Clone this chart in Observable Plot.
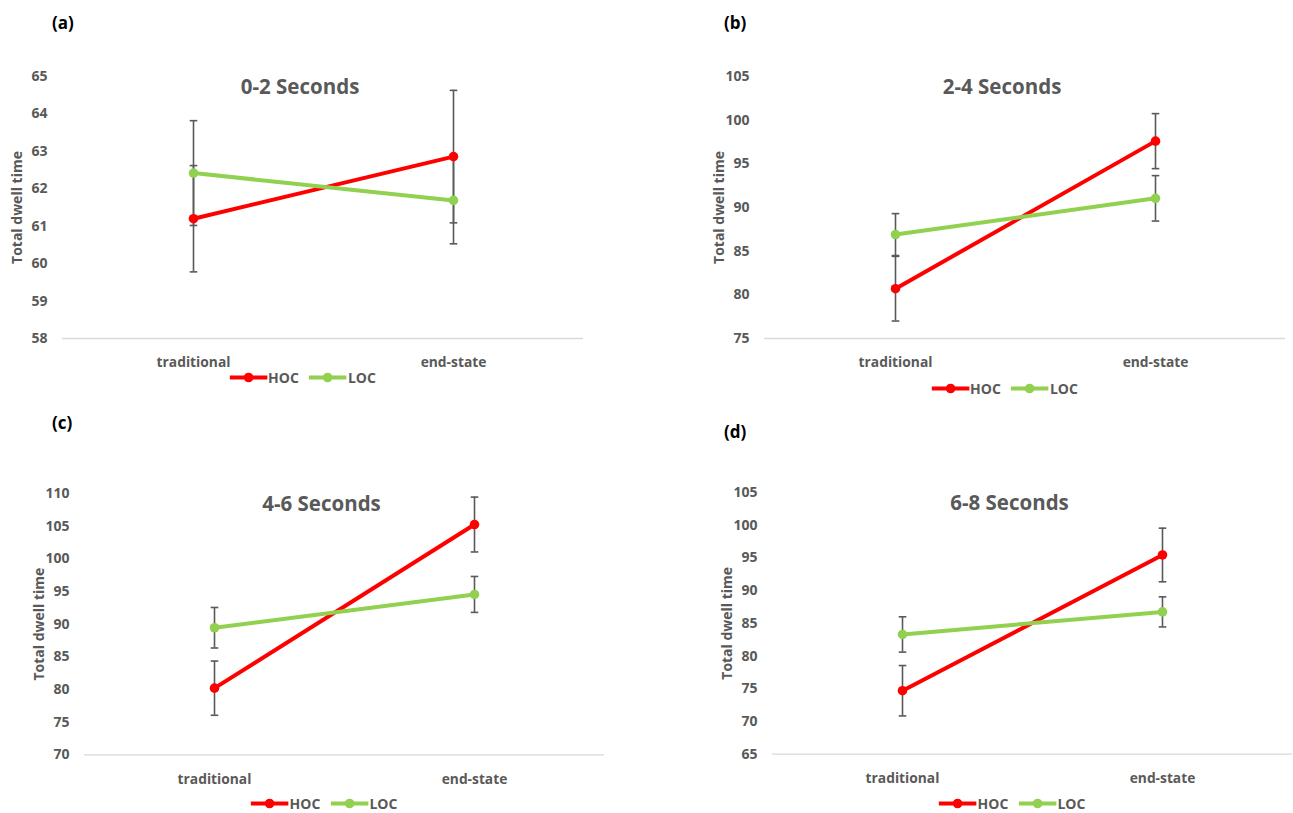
<!DOCTYPE html>
<html><head><meta charset="utf-8">
<script src="https://cdn.jsdelivr.net/npm/d3@7"></script>
<script src="https://cdn.jsdelivr.net/npm/@observablehq/plot@0.6"></script>
<style>
body{margin:0;background:#fff;}
#root{position:relative;width:1293px;height:813px;overflow:hidden;background:#fff;font-family:"Open Sans",Lato,sans-serif;}
.plabel{position:absolute;font-weight:700;font-size:17px;color:#000;transform:translateY(-50%);}
.legend{position:absolute;display:flex;align-items:center;transform:translate(-50%,-50%);font-weight:700;font-size:14px;color:#595959;white-space:nowrap;}
.legend .item{display:flex;align-items:center;margin:0 5px;}
.legend svg{display:block;margin-right:1px;}
.panel{position:absolute;}
</style></head><body><div id="root"></div>
<script>
const categories = ["traditional", "end-state"];
const seriesNames = ["HOC", "LOC"];
const panelLabels = ["(a)", "(b)", "(c)", "(d)"];
const panelTitles = ["0-2 Seconds", "2-4 Seconds", "4-6 Seconds", "6-8 Seconds"];
const yAxisTitle = "Total dwell time";

// [traditional, end-state] per panel
const hocMean = [[61.20, 62.86], [80.70, 97.60], [80.20, 105.25], [74.70, 95.45]];
const hocErr  = [[1.42, 1.77],   [3.70, 3.15],  [4.15, 4.20],   [3.85, 4.10]];
const locMean = [[62.42, 61.69], [86.90, 91.05], [89.45, 94.55], [83.30, 86.75]];
const locErr  = [[1.40, 1.16],   [2.40, 2.60],  [3.10, 2.75],   [2.70, 2.30]];

const yDomains = [[58, 65], [75, 105], [70, 110], [65, 105]];
const yTickStep = [1, 5, 5, 5];

const colors = {HOC: "#FF0000", LOC: "#92D050"};
const layout = [
  {fl: 62,  fr: 583,  ft: 76,    fb: 338, lx: 52,  ly: 22,  legY: 377},
  {fl: 764, fr: 1285, ft: 76,    fb: 338, lx: 724, ly: 22,  legY: 388},
  {fl: 84,  fr: 604,  ft: 492.7, fb: 754, lx: 52,  ly: 422, legY: 803},
  {fl: 772, fr: 1292, ft: 492.3, fb: 754, lx: 724, ly: 431, legY: 803}
];

// horizontal cap symbol for error bars
const capSymbol = {
  draw(context, size) {
    const w = Math.sqrt(size / Math.PI);
    context.moveTo(-w, 0);
    context.lineTo(w, 0);
  }
};

const root = document.getElementById("root");
const FONT = "'Open Sans', Lato, sans-serif";

panelTitles.forEach((title, i) => {
  const L = layout[i];
  const rows = categories.flatMap((c, j) => [
    {series: "HOC", cat: c, mean: hocMean[i][j], err: hocErr[i][j]},
    {series: "LOC", cat: c, mean: locMean[i][j], err: locErr[i][j]}
  ]);
  const padL = 70, padT = 16, padR = 1, padB = 40;
  const W = L.fr - L.fl + padL + padR;
  const H = L.fb - L.ft + padT + padB;
  const [y0, y1] = yDomains[i];
  const errStyle = {stroke: "#595959", strokeWidth: 1.6};
  const chart = Plot.plot({
    width: W, height: H,
    marginLeft: padL, marginRight: padR, marginTop: padT, marginBottom: padB,
    style: {fontFamily: FONT, fontWeight: 700, fontSize: "14px", color: "#595959", background: "transparent", overflow: "visible"},
    x: {type: "point", domain: categories, padding: 0.5, label: null},
    y: {domain: yDomains[i], label: null},
    color: {domain: seriesNames, range: [colors.HOC, colors.LOC]},
    marks: [
      Plot.ruleY([y0], {stroke: "#d9d9d9", strokeWidth: 1.3}),
      Plot.axisY({ticks: d3.range(y0, y1 + 0.001, yTickStep[i]), tickFormat: "d", tickSize: 0, tickPadding: 15, fill: "#595959", fontSize: 14, fontWeight: 700, label: null}),
      Plot.axisX({tickSize: 0, tickPadding: 19, fill: "#595959", fontSize: 13.8, fontWeight: 700, label: null}),
      Plot.ruleX(rows, {x: "cat", y1: d => d.mean - d.err, y2: d => d.mean + d.err, ...errStyle}),
      Plot.dot(rows, {x: "cat", y: d => d.mean + d.err, symbol: capSymbol, r: 3.8, fill: "none", ...errStyle}),
      Plot.dot(rows, {x: "cat", y: d => d.mean - d.err, symbol: capSymbol, r: 3.8, fill: "none", ...errStyle}),
      Plot.line(rows, {x: "cat", y: "mean", z: "series", stroke: "series", strokeWidth: 4}),
      Plot.dot(rows, {x: "cat", y: "mean", fill: "series", r: 4.8}),
      Plot.text([title], {frameAnchor: "top", dx: -23, dy: 11, lineAnchor: "middle", textAnchor: "middle", fontSize: 20.5, fontWeight: 700, fill: "#595959"}),
      Plot.text([yAxisTitle], {frameAnchor: "left", rotate: -90, dx: -45, textAnchor: "middle", lineAnchor: "middle", fontSize: 14, fontWeight: 700, fill: "#595959"})
    ]
  });
  const wrap = document.createElement("div");
  wrap.className = "panel";
  wrap.style.left = (L.fl - padL) + "px";
  wrap.style.top = (L.ft - padT) + "px";
  wrap.appendChild(chart);
  root.appendChild(wrap);

  const lab = document.createElement("div");
  lab.className = "plabel";
  lab.style.left = L.lx + "px";
  lab.style.top = L.ly + "px";
  lab.textContent = panelLabels[i];
  root.appendChild(lab);

  const leg = document.createElement("div");
  leg.className = "legend";
  leg.style.left = ((L.fl + L.fr) / 2 - 20) + "px";
  leg.style.top = L.legY + "px";
  seriesNames.forEach(s => {
    const it = document.createElement("div");
    it.className = "item";
    it.innerHTML = `<svg width="38" height="12"><line x1="0" y1="6" x2="38" y2="6" stroke="${colors[s]}" stroke-width="4"/><circle cx="19" cy="6" r="4.8" fill="${colors[s]}"/></svg><span>${s}</span>`;
    leg.appendChild(it);
  });
  root.appendChild(leg);
});
</script>
</body></html>
